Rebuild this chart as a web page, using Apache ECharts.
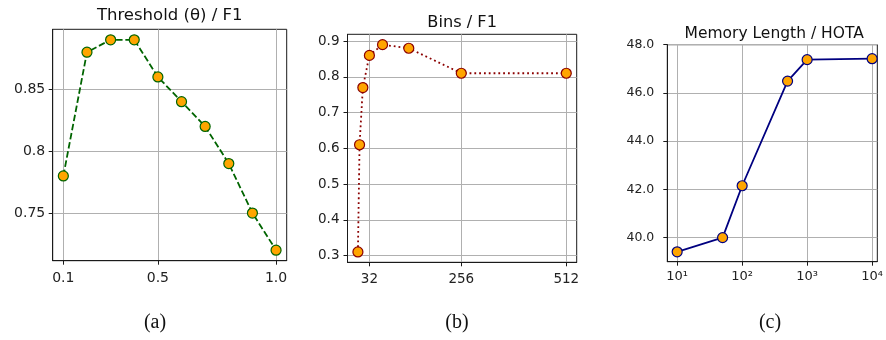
<!DOCTYPE html>
<html>
<head>
<meta charset="utf-8">
<script src="https://cdn.jsdelivr.net/npm/echarts@6/dist/echarts.min.js"></script>
<style>html,body{margin:0;padding:0;background:#fff}#c{width:886px;height:340px}</style>
</head>
<body>
<div id="c"></div>
<script>
// ---- data ----
const thetaX = [0.1, 0.2, 0.3, 0.4, 0.5, 0.6, 0.7, 0.8, 0.9, 1.0];
const thetaF1 = [0.78, 0.88, 0.89, 0.89, 0.86, 0.84, 0.82, 0.79, 0.75, 0.72];
const thetaXTicks = [0.1, 0.5, 1.0];
const thetaXTickLabels = ['0.1', '0.5', '1.0'];
const thetaYTicks = [0.75, 0.8, 0.85];
const thetaYTickLabels = ['0.75', '0.8', '0.85'];

const binsX = [4, 8, 16, 32, 64, 128, 256, 512];
const binsF1 = [0.31, 0.61, 0.77, 0.86, 0.89, 0.88, 0.81, 0.81];
const binsXTicks = [32, 256, 512];
const binsXTickLabels = ['32', '256', '512'];
const binsYTicks = [0.3, 0.4, 0.5, 0.6, 0.7, 0.8, 0.9];
const binsYTickLabels = ['0.3', '0.4', '0.5', '0.6', '0.7', '0.8', '0.9'];

const memX = [10, 50, 100, 500, 1000, 10000];
const memHOTA = [39.41, 40.0, 42.15, 46.49, 47.38, 47.42];
const memXTicks = [10, 100, 1000, 10000];
const memXTickLabels = ['10¹', '10²', '10³', '10⁴'];
const memYTicks = [40, 42, 44, 46, 48];
const memYTickLabels = ['40.0', '42.0', '44.0', '46.0', '48.0'];

const titles = ['Threshold (θ) / F1', 'Bins / F1', 'Memory Length / HOTA'];
const captions = ['(a)', '(b)', '(c)'];

// ---- styling / layout ----
const FONT = 'DejaVu Sans';
const gridColor = '#b0b0b0';
const spineColor = '#1a1a1a';
const grids = [
  {left: 52.7, top: 29.3, width: 234, height: 231.4},
  {left: 347.5, top: 34.3, width: 229.2, height: 228},
  {left: 667.3, top: 44.7, width: 213.7, height: 217}
];
const xRanges = [[0.055, 1.045], [-21.4, 537.4], [7.05, 12020]];
const yRanges = [[0.7115, 0.8985], [0.281, 0.919], [39.0, 48.0]];
const xTicks = [thetaXTicks, binsXTicks, memXTicks];
const xTickLabels = [thetaXTickLabels, binsXTickLabels, memXTickLabels];
const yTicks = [thetaYTicks, binsYTicks, memYTicks];
const yTickLabels = [thetaYTickLabels, binsYTickLabels, memYTickLabels];
const lineColors = ['#006400', '#8B0000', '#000080'];
const lineTypes = [[6.5, 2.8], [1.8, 3.0], 'solid'];
const seriesX = [thetaX, binsX, memX];
const seriesY = [thetaF1, binsF1, memHOTA];
const titleY = [7, 15, 25.5];
const titleSize = [16.5, 16.2, 15.5];
const xLabelSize = [14, 13.5, 13];
const yLabelSize = [14, 13.5, 12.5];
const xLabelMargin = [11, 10, 8];
const yLabelMargin = [7.5, 8, 13];
const captionX = [155, 457, 770];

function labelFor(ticks, labels) {
  return function (v) {
    for (let i = 0; i < ticks.length; i++) {
      if (Math.abs(ticks[i] - v) < 1e-9 * Math.max(1, Math.abs(v))) return labels[i];
    }
    return '';
  };
}

const option = {
  animation: false,
  backgroundColor: '#fff',
  title: [],
  grid: [],
  xAxis: [],
  yAxis: [],
  series: []
};

for (let i = 0; i < 3; i++) {
  const g = grids[i];
  option.grid.push(Object.assign({show: true, borderColor: spineColor, borderWidth: 1, backgroundColor: 'transparent'}, g));
  option.title.push({
    text: titles[i], left: g.left + g.width / 2, top: titleY[i], textAlign: 'center', padding: 0,
    textStyle: {fontFamily: FONT, fontSize: titleSize[i], fontWeight: 'normal', color: '#111'}
  });
  option.title.push({
    text: captions[i], left: captionX[i], top: 313, textAlign: 'center', padding: 0,
    textStyle: {fontFamily: 'Liberation Serif', fontSize: 20, fontWeight: 'normal', color: '#111'}
  });
  option.xAxis.push({
    type: i === 2 ? 'log' : 'value', logBase: 10, gridIndex: i,
    min: xRanges[i][0], max: xRanges[i][1],
    axisLine: {show: true, onZero: false, lineStyle: {color: spineColor, width: 1}},
    axisTick: {show: true, inside: false, length: 4, customValues: xTicks[i], lineStyle: {color: spineColor, width: 1}},
    axisLabel: {customValues: xTicks[i], formatter: labelFor(xTicks[i], xTickLabels[i]), margin: xLabelMargin[i],
      fontFamily: FONT, fontSize: xLabelSize[i], color: '#222', showMinLabel: true, showMaxLabel: true},
    splitLine: {show: true, lineStyle: {color: gridColor, width: 1}},
    minorTick: {show: false}, minorSplitLine: {show: false}
  });
  option.yAxis.push({
    type: 'value', gridIndex: i,
    min: yRanges[i][0], max: yRanges[i][1],
    axisLine: {show: true, onZero: false, lineStyle: {color: spineColor, width: 1}},
    axisTick: {show: true, inside: false, length: 4, customValues: yTicks[i], lineStyle: {color: spineColor, width: 1}},
    axisLabel: {customValues: yTicks[i], formatter: labelFor(yTicks[i], yTickLabels[i]), margin: yLabelMargin[i],
      fontFamily: FONT, fontSize: yLabelSize[i], color: '#222', showMinLabel: true, showMaxLabel: true},
    splitLine: {show: true, lineStyle: {color: gridColor, width: 1}}
  });
  option.series.push({
    type: 'line', xAxisIndex: i, yAxisIndex: i,
    data: seriesX[i].map((x, k) => [x, seriesY[i][k]]),
    symbol: 'circle', symbolSize: 10, showSymbol: true,
    lineStyle: {color: lineColors[i], width: 1.8, type: lineTypes[i]},
    itemStyle: {color: '#FFA500', borderColor: lineColors[i], borderWidth: 1.2},
    z: 3
  });
}

const chart = echarts.init(document.getElementById('c'), null, {renderer: 'canvas'});
chart.setOption(option);
</script>
</body>
</html>
